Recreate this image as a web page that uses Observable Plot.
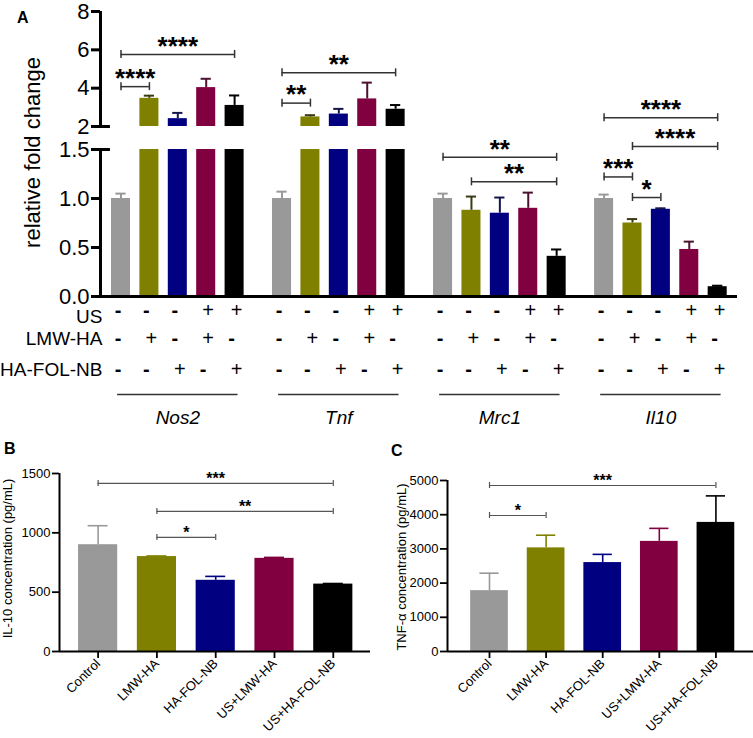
<!DOCTYPE html>
<html><head><meta charset="utf-8">
<script src="https://cdn.jsdelivr.net/npm/d3@7"></script>
<script src="https://cdn.jsdelivr.net/npm/@observablehq/plot@0.6"></script>
<style>
body{margin:0;background:#fff;font-family:"Liberation Sans",Arial,sans-serif;}
#fig{position:relative;width:753px;height:738px;overflow:hidden;background:#fff;}
.pan{position:absolute;}
.plab{position:absolute;font-weight:bold;font-size:16px;line-height:16px;color:#000;}
#pa g[aria-label="y-axis tick"] path, #pa g[aria-label="y-axis"] line{stroke-width:3px;}
#pb g[aria-label$="-axis tick"] path, #pc g[aria-label$="-axis tick"] path,
#pb g[aria-label$="-axis"] line, #pc g[aria-label$="-axis"] line{stroke-width:1.8px;}
</style></head><body>
<div id="fig">
  <div id="pa" class="pan" style="left:0;top:0"></div>
  <div id="pb" class="pan" style="left:0;top:430px"></div>
  <div id="pc" class="pan" style="left:370px;top:430px"></div>
  <div class="plab" style="left:17px;top:10px">A</div>
  <div class="plab" style="left:4px;top:441px">B</div>
  <div class="plab" style="left:391px;top:443px">C</div>
</div>
<script>
// ---------- data ----------
const genes = ["Nos2", "Tnf", "Mrc1", "Il10"];
const treatments = ["Control", "LMW-HA", "HA-FOL-NB", "US+LMW-HA", "US+HA-FOL-NB"];
const colors = ["#999999", "#808000", "#000080", "#800040", "#000000"];
const errColorsA = ["#999999", "#3a3a14", "#16164c", "#4c1030", "#000000"];

const rowNames = ["US", "LMW-HA", "HA-FOL-NB"];
const usRow  = ["-", "-", "-", "+", "+"];
const lmwRow = ["-", "+", "-", "+", "-"];
const hafRow = ["-", "-", "+", "-", "+"];

const nos2Mean = [1.00, 3.47, 2.41, 4.03, 3.10];
const nos2Err  = [0.05, 0.14, 0.30, 0.46, 0.52];
const tnfMean  = [1.00, 2.50, 2.65, 3.44, 2.90];
const tnfErr   = [0.07, 0.09, 0.27, 0.85, 0.22];
const mrc1Mean = [1.00, 0.88, 0.85, 0.90, 0.41];
const mrc1Err  = [0.05, 0.14, 0.16, 0.16, 0.07];
const il10Mean = [1.00, 0.75, 0.89, 0.48, 0.10];
const il10Err  = [0.04, 0.04, 0.01, 0.08, 0.01];

const yTicksA = [0, 0.5, 1, 1.5, 2, 4, 6, 8];
const yTickLabelsA = ["0.0", "0.5", "1.0", "1.5", "2", "4", "6", "8"];

const sigA = [
  {gene: "Nos2", from: 0, to: 1, y: 4.08, label: "****"},
  {gene: "Nos2", from: 0, to: 4, y: 5.76, label: "****"},
  {gene: "Tnf",  from: 0, to: 1, y: 3.22, label: "**"},
  {gene: "Tnf",  from: 0, to: 4, y: 4.80, label: "**"},
  {gene: "Mrc1", from: 0, to: 4, y: 1.42, label: "**"},
  {gene: "Mrc1", from: 1, to: 4, y: 1.17, label: "**"},
  {gene: "Il10", from: 0, to: 4, y: 2.46, label: "****"},
  {gene: "Il10", from: 1, to: 4, y: 1.565, label: "****"},
  {gene: "Il10", from: 0, to: 1, y: 1.22, label: "***"},
  {gene: "Il10", from: 1, to: 2, y: 1.01, label: "*"}
];

const il10Conc    = [900, 800, 600, 785, 568];
const il10ConcErr = [160, 5, 33, 8, 5];
const yTicksB = [0, 500, 1000, 1500];
const sigB = [
  {from: 0, to: 4, y: 1416, label: "***"},
  {from: 1, to: 4, y: 1180, label: "**"},
  {from: 1, to: 2, y: 961, label: "*"}
];

const tnfConc    = [1780, 3030, 2600, 3220, 3775];
const tnfConcErr = [510, 370, 240, 380, 775];
const yTicksC = [0, 1000, 2000, 3000, 4000, 5000];
const sigC = [
  {from: 0, to: 4, y: 4854, label: "***"},
  {from: 0, to: 1, y: 3977, label: "*"}
];

// ---------- layout helpers ----------
const FONT = '"Liberation Sans", Arial, sans-serif';
// broken axis: [0,1.5] lower segment, [2,8] upper segment (display units)
function brk(v) {
  if (v <= 1.5) return v * 98;
  if (v <= 2) return 147 + (v - 1.5) * 46;
  return 170 + (v - 2) * 19.17;
}
const GROUP_STEP = 5.67;
const xc = (gi, ti) => gi * GROUP_STEP + ti;
const X0A = -0.722, X1A = 21.708;
const HALF_A = 0.335, CAP_A = 0.18;

const meansA = [nos2Mean, tnfMean, mrc1Mean, il10Mean];
const errsA = [nos2Err, tnfErr, mrc1Err, il10Err];
const barsA = genes.flatMap((g, gi) => treatments.map((t, ti) => ({
  gi, ti, x: xc(gi, ti), v: meansA[gi][ti], e: errsA[gi][ti]
})));
const yTickPosA = yTicksA.map(brk);
const fmtA = v => {
  const i = yTickPosA.findIndex(p => Math.abs(p - v) < 1e-6);
  return i >= 0 ? yTickLabelsA[i] : "";
};
const sigAx = sigA.map(d => {
  const gi = genes.indexOf(d.gene);
  return {...d, x1: xc(gi, d.from), x2: xc(gi, d.to), yy: brk(d.y)};
});
const sigAEnds = sigAx.flatMap(d => [{x: d.x1, y: d.yy}, {x: d.x2, y: d.yy}]);

// +/- table rows (display units below the axis)
const rowY = [-14, -42, -73];
const rowLabelY = [-20, -42, -73];
const rowsSigns = [usRow, lmwRow, hafRow];
const signs = genes.flatMap((g, gi) => rowsSigns.flatMap((row, ri) =>
  row.map((s, ti) => ({x: xc(gi, ti), y: rowY[ri], s}))));
const geneLines = genes.map((g, gi) => ({g, x1: xc(gi, 0) - 0.12, x2: xc(gi, 4) + 0.12, xm: xc(gi, 2)}));

const plotA = Plot.plot({
  width: 753, height: 430,
  marginLeft: 100, marginRight: 16, marginTop: 11, marginBottom: 134,
  style: {fontFamily: FONT, fontSize: "22px", background: "white", overflow: "visible", color: "#000"},
  x: {domain: [X0A, X1A], axis: null},
  y: {domain: [0, brk(8)], ticks: yTickPosA, tickFormat: fmtA, tickSize: 9, tickPadding: 2, label: null},
  color: {type: "identity"},
  marks: [
    Plot.rect(barsA, {x1: d => d.x - HALF_A, x2: d => d.x + HALF_A, y1: 0, y2: d => brk(Math.min(d.v, 1.5)), fill: d => colors[d.ti]}),
    Plot.rect(barsA.filter(d => d.v > 2), {x1: d => d.x - HALF_A, x2: d => d.x + HALF_A, y1: brk(2), y2: d => brk(d.v), fill: d => colors[d.ti]}),
    Plot.ruleX(barsA, {x: "x", y1: d => brk(d.v), y2: d => brk(d.v + d.e), stroke: d => errColorsA[d.ti], strokeWidth: 2}),
    Plot.ruleY(barsA, {y: d => brk(d.v + d.e), x1: d => d.x - CAP_A, x2: d => d.x + CAP_A, stroke: d => errColorsA[d.ti], strokeWidth: 2}),
    Plot.ruleX([[0, 1.5], [2, 8]], {x: X0A, y1: d => brk(d[0]), y2: d => brk(d[1]), stroke: "#000", strokeWidth: 3}),
    Plot.ruleY([1.5, 2], {y: d => brk(d), x1: X0A, x2: X0A + 0.35, stroke: "#000", strokeWidth: 3}),
    Plot.ruleY([0], {x1: X0A, x2: X1A, stroke: "#000", strokeWidth: 3}),
    // significance brackets
    Plot.ruleY(sigAx, {y: "yy", x1: "x1", x2: "x2", stroke: "#333", strokeWidth: 1.5}),
    Plot.ruleX(sigAEnds, {x: "x", y1: "y", y2: "y", insetTop: -4, insetBottom: -4, stroke: "#333", strokeWidth: 1.5}),
    Plot.text(sigAx, {x: d => (d.x1 + d.x2) / 2, y: "yy", text: "label", dy: -8, fontSize: 26, fontWeight: "bold", fill: "#000"}),
    // y label
    Plot.text(["relative fold change"], {x: X0A, y: brk(1.5), text: d => d, dx: -68, dy: 3, rotate: -90, textAnchor: "middle", fontSize: 22, fill: "#000"}),
    // +/- table
    Plot.text(rowNames, {x: X0A, y: (d, i) => rowLabelY[i], text: d => d, textAnchor: "end", dx: 2, fontSize: 19, fill: "#000"}),
    Plot.text(signs.filter(d => d.s === "-"), {x: "x", y: "y", text: "s", dx: -3, fontSize: 20, fontWeight: "bold", fill: "#000"}),
    Plot.text(signs.filter(d => d.s === "+"), {x: "x", y: "y", text: "s", dx: 2, fontSize: 20, fill: "#000"}),
    Plot.ruleY(geneLines, {y: -98, x1: "x1", x2: "x2", stroke: "#333", strokeWidth: 1.3}),
    Plot.text(geneLines, {x: "xm", y: -121, text: "g", fontSize: 19, fontStyle: "italic", fill: "#000"})
  ]
});
document.getElementById("pa").appendChild(plotA);

function panel({width, marginLeft, marginTop, x0, x1, yMax, yTicks, means, errs, sig, title, titleDx, titleDy}) {
  const rows = treatments.map((t, i) => ({i, v: means[i], e: errs[i]}));
  const ends = sig.flatMap(d => [{x: d.from, y: d.y}, {x: d.to, y: d.y}]);
  return Plot.plot({
    width, height: 308,
    marginLeft, marginRight: 0, marginTop, marginBottom: 87,
    style: {fontFamily: FONT, fontSize: "13px", background: "white", overflow: "visible", color: "#000"},
    x: {domain: [x0, x1], ticks: [0, 1, 2, 3, 4], tickFormat: i => treatments[i], tickRotate: -45, tickSize: 7, tickPadding: 3, label: null},
    y: {domain: [0, yMax], ticks: yTicks, tickFormat: d => String(d), tickSize: 7, tickPadding: 2, label: null},
    color: {type: "identity"},
    marks: [
      Plot.rect(rows, {x1: d => d.i - 0.333, x2: d => d.i + 0.333, y1: 0, y2: "v", fill: d => colors[d.i]}),
      Plot.ruleX(rows, {x: "i", y1: "v", y2: d => d.v + d.e, stroke: d => colors[d.i], strokeWidth: 1.6}),
      Plot.ruleY(rows, {y: d => d.v + d.e, x1: d => d.i - 0.17, x2: d => d.i + 0.17, stroke: d => colors[d.i], strokeWidth: 1.6}),
      Plot.ruleX([0], {x: x0, y1: 0, y2: yMax, stroke: "#000", strokeWidth: 2}),
      Plot.ruleY([0], {stroke: "#000", strokeWidth: 2}),
      Plot.ruleY(sig, {y: "y", x1: "from", x2: "to", stroke: "#555", strokeWidth: 1.2}),
      Plot.ruleX(ends, {x: "x", y1: "y", y2: "y", insetTop: -3, insetBottom: -3, stroke: "#555", strokeWidth: 1.2}),
      Plot.text(sig, {x: d => (d.from + d.to) / 2, y: "y", text: "label", dy: -5, fontSize: 16, fontWeight: "bold", fill: "#000"}),
      Plot.text([title], {x: x0, y: yMax / 2, text: d => d, dx: titleDx, dy: titleDy, rotate: -90, textAnchor: "middle", fontSize: 13, fill: "#000"})
    ]
  });
}

document.getElementById("pb").appendChild(panel({
  width: 370, marginLeft: 59, marginTop: 43, x0: -0.657, x1: 4.633, yMax: 1500, yTicks: yTicksB,
  means: il10Conc, errs: il10ConcErr, sig: sigB, title: "IL-10 concentration (pg/mL)", titleDx: -52, titleDy: -4
}));
document.getElementById("pc").appendChild(panel({
  width: 383, marginLeft: 77, marginTop: 50, x0: -0.742, x1: 4.664, yMax: 5000, yTicks: yTicksC,
  means: tnfConc, errs: tnfConcErr, sig: sigC, title: "TNF-α concentration (pg/mL)", titleDx: -46, titleDy: 1
}));
</script>
</body></html>
